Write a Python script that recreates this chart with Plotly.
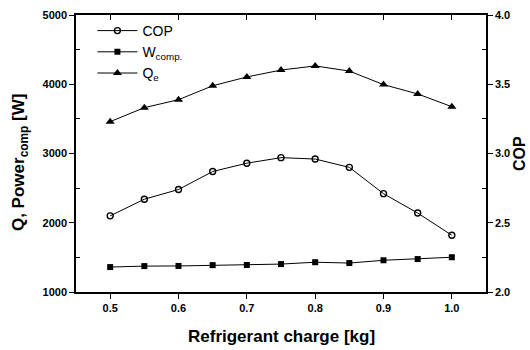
import plotly.graph_objects as go

# Refrigerant charge [kg]
charge = [0.50, 0.55, 0.60, 0.65, 0.70, 0.75, 0.80, 0.85, 0.90, 0.95, 1.00]
# Coefficient of performance (right axis)
cop = [2.55, 2.67, 2.74, 2.87, 2.93, 2.97, 2.96, 2.90, 2.71, 2.57, 2.41]
# Compressor power [W]
w_comp = [1360, 1374, 1376, 1388, 1390, 1403, 1430, 1418, 1458, 1476, 1502]
# Evaporator capacity [W]
q_e = [3460, 3662, 3777, 3978, 4105, 4205, 4265, 4190, 3995, 3860, 3676]

x_ticks = [0.5, 0.6, 0.7, 0.8, 0.9, 1.0]
x_labels = ["0.5", "0.6", "0.7", "0.8", "0.9", "1.0"]

FONT = "Liberation Sans, Arial, sans-serif"
tick_font = dict(family=FONT, size=11, color="black", weight="bold")
title_font = dict(family=FONT, size=17, color="black", weight="bold")
line = dict(color="black", width=1)

fig = go.Figure()
fig.add_trace(go.Scatter(
    x=charge, y=cop, name="COP", yaxis="y2", mode="lines+markers",
    line=line,
    marker=dict(symbol="circle-open", size=6, color="black", line=dict(width=1.4)),
))
fig.add_trace(go.Scatter(
    x=charge, y=w_comp, name="W<sub>comp.</sub>", mode="lines+markers",
    line=line,
    marker=dict(symbol="square", size=6, color="black"),
))
fig.add_trace(go.Scatter(
    x=charge, y=q_e, name="Q<sub>e</sub>", mode="lines+markers",
    line=line,
    marker=dict(symbol="triangle-up", size=8, color="black"),
))

axis_common = dict(
    showline=True, linecolor="black", linewidth=1.5,
    showgrid=False, zeroline=False,
    tickcolor="black", ticklen=5, tickwidth=1.2,
    tickfont=tick_font, automargin=False,
)

fig.update_layout(
    width=530, height=350,
    margin=dict(l=76, r=44, t=15, b=58, autoexpand=False),
    paper_bgcolor="white", plot_bgcolor="white",
    font=dict(family=FONT, color="black"),
    showlegend=True,
    legend=dict(
        x=0.04, y=1.0, xanchor="left", yanchor="top",
        bgcolor="rgba(0,0,0,0)", borderwidth=0,
        font=dict(family=FONT, size=14, color="black"),
        itemwidth=40, tracegroupgap=0,
    ),
    xaxis=dict(
        **axis_common,
        range=[0.45, 1.05], tickvals=x_ticks, ticktext=x_labels,
        ticks="outside",
    ),
    xaxis2=dict(
        overlaying="x", side="top", range=[0.45, 1.05],
        tickvals=x_ticks, showticklabels=False, ticks="inside",
        ticklen=5, tickwidth=1.2, tickcolor="black",
        showline=True, linecolor="black", linewidth=1.5,
        showgrid=False, zeroline=False,
    ),
    yaxis=dict(
        **axis_common,
        range=[1000, 5000], tickvals=[1000, 2000, 3000, 4000, 5000],
        ticks="outside",
        minor=dict(tickvals=[1500, 2500, 3500, 4500], ticks="inside",
                   ticklen=4, tickcolor="black", tickwidth=1.2),
    ),
    yaxis2=dict(
        **axis_common,
        overlaying="y", side="right",
        range=[2.0, 4.0], tickvals=[2.0, 2.5, 3.0, 3.5, 4.0],
        ticktext=["2.0", "2.5", "3.0", "3.5", "4.0"],
        ticks="outside",
        minor=dict(tickvals=[2.25, 2.75, 3.25, 3.75], ticks="inside",
                   ticklen=4, tickcolor="black", tickwidth=1.2),
    ),
)

# Axis titles placed in paper coordinates
fig.add_annotation(text="Refrigerant charge [kg]", xref="paper", yref="paper",
                   x=0.5, y=-0.16, xanchor="center", yanchor="middle",
                   showarrow=False, font=title_font)
fig.add_annotation(text="Q, Power<sub>comp</sub> [W]", xref="paper", yref="paper",
                   x=-0.136, y=0.47, xanchor="center", yanchor="middle",
                   textangle=-90, showarrow=False, font=title_font)
fig.add_annotation(text="COP", xref="paper", yref="paper",
                   x=1.082, y=0.5, xanchor="center", yanchor="middle",
                   textangle=-90, showarrow=False,
                   font=dict(family=FONT, size=16, color="black", weight="bold"))

# Top frame with inward ticks
fig.add_trace(go.Scatter(x=[0.45], y=[1000], xaxis="x2", mode="markers",
                         marker=dict(opacity=0), showlegend=False,
                         hoverinfo="skip"))

fig.write_html("out.html")
